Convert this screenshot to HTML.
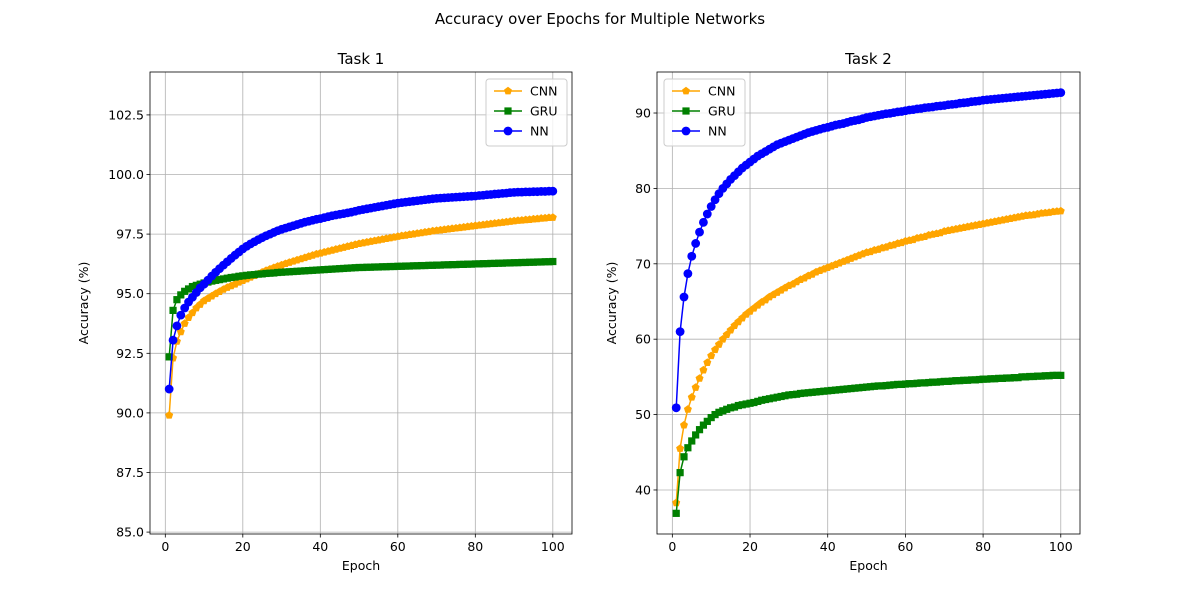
<!DOCTYPE html>
<html><head><meta charset="utf-8"><style>
body{margin:0;background:#fff;}
svg text{font-family:"DejaVu Sans","Liberation Sans",sans-serif;fill:#000;}
</style></head><body>
<svg id="fig" width="1200" height="600" viewBox="0 0 1200 600" xmlns="http://www.w3.org/2000/svg">
<rect width="1200" height="600" fill="#fff"/>
<text x="600" y="24" font-size="15" text-anchor="middle">Accuracy over Epochs for Multiple Networks</text>
</svg>
<script>
const seriesNames = ["CNN","GRU","NN"];
const t1CNN=[89.9,92.3,93.0,93.4,93.75,94.0,94.2,94.4,94.55,94.7,94.8,94.9,95.0,95.09,95.18,95.26,95.33,95.4,95.48,95.55,95.62,95.69,95.76,95.83,95.9,95.97,96.03,96.09,96.15,96.2,96.26,96.31,96.36,96.41,96.46,96.51,96.56,96.61,96.66,96.7,96.74,96.78,96.82,96.86,96.9,96.94,96.98,97.02,97.06,97.1,97.13,97.16,97.19,97.22,97.25,97.28,97.31,97.34,97.37,97.4,97.43,97.45,97.48,97.5,97.53,97.55,97.58,97.6,97.63,97.65,97.67,97.69,97.71,97.73,97.75,97.77,97.79,97.81,97.83,97.85,97.87,97.89,97.91,97.93,97.95,97.97,97.99,98.01,98.03,98.05,98.07,98.08,98.1,98.11,98.13,98.14,98.16,98.17,98.19,98.2];
const t1GRU=[92.35,94.3,94.75,94.95,95.1,95.2,95.3,95.35,95.4,95.45,95.49,95.53,95.56,95.59,95.62,95.65,95.68,95.7,95.73,95.75,95.77,95.79,95.8,95.82,95.83,95.85,95.86,95.87,95.89,95.9,95.91,95.92,95.93,95.94,95.95,95.96,95.97,95.98,95.99,96.0,96.01,96.02,96.03,96.04,96.05,96.06,96.07,96.08,96.09,96.1,96.1,96.11,96.11,96.12,96.12,96.13,96.13,96.14,96.14,96.15,96.15,96.16,96.16,96.17,96.17,96.18,96.18,96.19,96.19,96.2,96.2,96.21,96.21,96.22,96.22,96.23,96.23,96.24,96.24,96.25,96.25,96.26,96.26,96.27,96.27,96.28,96.28,96.29,96.29,96.3,96.3,96.31,96.31,96.32,96.32,96.33,96.33,96.34,96.34,96.35];
const t1NN=[91.0,93.05,93.65,94.1,94.4,94.65,94.85,95.05,95.25,95.4,95.57,95.74,95.9,96.05,96.2,96.34,96.48,96.62,96.75,96.88,96.99,97.09,97.18,97.27,97.35,97.43,97.5,97.57,97.64,97.7,97.75,97.8,97.85,97.9,97.95,98.0,98.04,98.08,98.12,98.15,98.19,98.23,98.27,98.3,98.33,98.36,98.39,98.42,98.46,98.5,98.53,98.56,98.59,98.62,98.65,98.68,98.71,98.74,98.77,98.8,98.82,98.84,98.86,98.88,98.9,98.92,98.94,98.96,98.98,99.0,99.01,99.02,99.03,99.04,99.05,99.06,99.07,99.08,99.09,99.1,99.12,99.13,99.15,99.16,99.18,99.19,99.21,99.22,99.24,99.25,99.26,99.26,99.27,99.27,99.28,99.28,99.29,99.29,99.3,99.3];
const t2CNN=[38.3,45.5,48.6,50.7,52.3,53.6,54.8,55.9,56.9,57.8,58.6,59.3,60.0,60.6,61.2,61.8,62.3,62.8,63.3,63.7,64.1,64.5,64.9,65.2,65.6,65.9,66.2,66.5,66.8,67.1,67.3,67.6,67.9,68.1,68.4,68.6,68.9,69.1,69.3,69.5,69.7,69.9,70.1,70.3,70.5,70.7,70.9,71.1,71.3,71.5,71.6,71.8,71.9,72.1,72.2,72.4,72.5,72.7,72.8,73.0,73.1,73.2,73.4,73.5,73.6,73.8,73.9,74.0,74.1,74.3,74.4,74.5,74.6,74.7,74.8,74.9,75.0,75.1,75.2,75.3,75.4,75.5,75.6,75.7,75.8,75.9,76.0,76.1,76.2,76.3,76.4,76.45,76.5,76.6,76.7,76.75,76.8,76.9,76.95,77.0];
const t2GRU=[36.9,42.3,44.4,45.6,46.5,47.3,48.0,48.6,49.1,49.6,50.0,50.3,50.5,50.7,50.9,51.0,51.2,51.3,51.4,51.5,51.6,51.75,51.9,52.0,52.1,52.2,52.3,52.4,52.5,52.6,52.65,52.7,52.8,52.85,52.9,52.95,53.0,53.05,53.1,53.15,53.2,53.25,53.3,53.35,53.4,53.45,53.5,53.55,53.6,53.65,53.7,53.75,53.8,53.8,53.85,53.9,53.95,54.0,54.0,54.05,54.1,54.1,54.15,54.2,54.2,54.25,54.3,54.3,54.35,54.4,54.4,54.45,54.5,54.5,54.55,54.55,54.6,54.6,54.65,54.7,54.7,54.75,54.75,54.8,54.8,54.85,54.85,54.9,54.9,55.0,55.0,55.05,55.05,55.1,55.1,55.15,55.15,55.2,55.2,55.2];
const t2NN=[50.9,61.0,65.6,68.7,71.0,72.7,74.2,75.5,76.6,77.6,78.5,79.3,80.0,80.6,81.2,81.7,82.2,82.7,83.1,83.5,83.9,84.3,84.6,84.9,85.2,85.5,85.8,86.0,86.2,86.4,86.6,86.8,87.0,87.2,87.4,87.55,87.7,87.85,88.0,88.1,88.25,88.4,88.5,88.6,88.75,88.9,89.0,89.1,89.25,89.4,89.5,89.6,89.7,89.8,89.9,89.95,90.05,90.15,90.2,90.3,90.4,90.45,90.55,90.6,90.7,90.75,90.8,90.9,90.95,91.0,91.1,91.15,91.2,91.3,91.35,91.4,91.5,91.55,91.6,91.7,91.75,91.8,91.85,91.9,91.95,92.0,92.05,92.1,92.15,92.2,92.25,92.3,92.35,92.4,92.45,92.5,92.55,92.6,92.65,92.7];
const xTicks=[0,20,40,60,80,100];
const t1YTicks=[85.0,87.5,90.0,92.5,95.0,97.5,100.0,102.5];
const t2YTicks=[40,50,60,70,80,90];

const NS="http://www.w3.org/2000/svg";
const fig=document.getElementById('fig');
function mk(tag,attrs,parent){const e=document.createElementNS(NS,tag);for(const k in attrs)e.setAttribute(k,attrs[k]);(parent||fig).appendChild(e);return e;}
const colors={CNN:"orange",GRU:"green",NN:"blue"};

function marker(g,type,x,y,c){
  let m;
  if(type==="CNN"){
    const r=4.2;let pts=[];
    for(let i=0;i<5;i++){const a=-Math.PI/2+i*2*Math.PI/5;pts.push((x+r*Math.cos(a)).toFixed(2)+","+(y+r*Math.sin(a)).toFixed(2));}
    m=mk('polygon',{points:pts.join(' '),fill:c},g);
  }else if(type==="GRU"){
    m=mk('rect',{x:x-3.6,y:y-3.6,width:7.2,height:7.2,fill:c},g);
  }else{
    m=mk('circle',{cx:x,cy:y,r:4.4,fill:c},g);
  }
  
  
}

function panel(id,L,R,T,B,ymin,ymax,yTicks,dec,title,series,legX,ylOff){
  const xmin=-3.95,xmax=104.95;
  const sx=v=>L+(v-xmin)/(xmax-xmin)*(R-L);
  const sy=v=>B-(v-ymin)/(ymax-ymin)*(B-T);
  const g=mk('g',{});
  
  
  xTicks.forEach(t=>{
    const x=sx(t);
    const gl=mk('line',{x1:x,x2:x,y1:T,y2:B,stroke:"#b0b0b0","stroke-width":0.8},g);
    
    
    mk('line',{x1:x,x2:x,y1:B,y2:B+3.5,stroke:"#000","stroke-width":0.8},g);
    const tx=mk('text',{x:x,y:B+17,"font-size":12.5,"text-anchor":"middle"},g);tx.textContent=t;
    
    
  });
  yTicks.forEach(t=>{
    const y=sy(t);
    const gl=mk('line',{x1:L,x2:R,y1:y,y2:y,stroke:"#b0b0b0","stroke-width":0.8},g);
    
    
    mk('line',{x1:L-3.5,x2:L,y1:y,y2:y,stroke:"#000","stroke-width":0.8},g);
    const tx=mk('text',{x:L-6,y:y+4.5,"font-size":12.5,"text-anchor":"end"},g);tx.textContent=t.toFixed(dec);
    
    
  });
  series.forEach((s,si)=>{
    const name=seriesNames[si],c=colors[name];
    const sg=mk('g',{},g);
    
    
    const d=s.map((v,i)=>(i?'L':'M')+sx(i+1).toFixed(2)+','+sy(v).toFixed(2)).join('');
    mk('path',{d:d,fill:"none",stroke:c,"stroke-width":1.5},sg);
    s.forEach((v,i)=>marker(sg,name,sx(i+1),sy(v),c));
  });
  const fr=mk('rect',{x:L,y:T,width:R-L,height:B-T,fill:"none",stroke:"#000","stroke-width":0.8},g);
  
  
  const ti=mk('text',{x:(L+R)/2,y:T-8,"font-size":15,"text-anchor":"middle"},g);ti.textContent=title;
  
  
  const xl=mk('text',{x:(L+R)/2,y:B+36,"font-size":12.5,"text-anchor":"middle"},g);xl.textContent="Epoch";
  
  
  const yl=mk('text',{x:0,y:0,"font-size":12.5,"text-anchor":"middle",transform:`translate(${L-ylOff},${(T+B)/2}) rotate(-90)`},g);yl.textContent="Accuracy (%)";
  
  
  const lg=mk('g',{},g);
  
  
  mk('rect',{x:legX,y:79,width:81,height:67,rx:3,fill:"#fff","fill-opacity":0.8,stroke:"#ccc","stroke-width":1},lg);
  seriesNames.forEach((n,i)=>{
    const y=91+i*20;
    const eg=mk('g',{},lg);
    
    
    mk('line',{x1:legX+8,x2:legX+36,y1:y,y2:y,stroke:colors[n],"stroke-width":1.5},eg);
    marker(eg,n,legX+22,y,colors[n]);
    const t=mk('text',{x:legX+44,y:y+4.5,"font-size":12.5},eg);t.textContent=n;
  });
}
panel('task1',150,572,72,534,84.92,104.3,t1YTicks,1,"Task 1",[t1CNN,t1GRU,t1NN],486,62);
panel('task2',657,1080,72,534,34.16,95.44,t2YTicks,0,"Task 2",[t2CNN,t2GRU,t2NN],664,41);
</script>
</body></html>
